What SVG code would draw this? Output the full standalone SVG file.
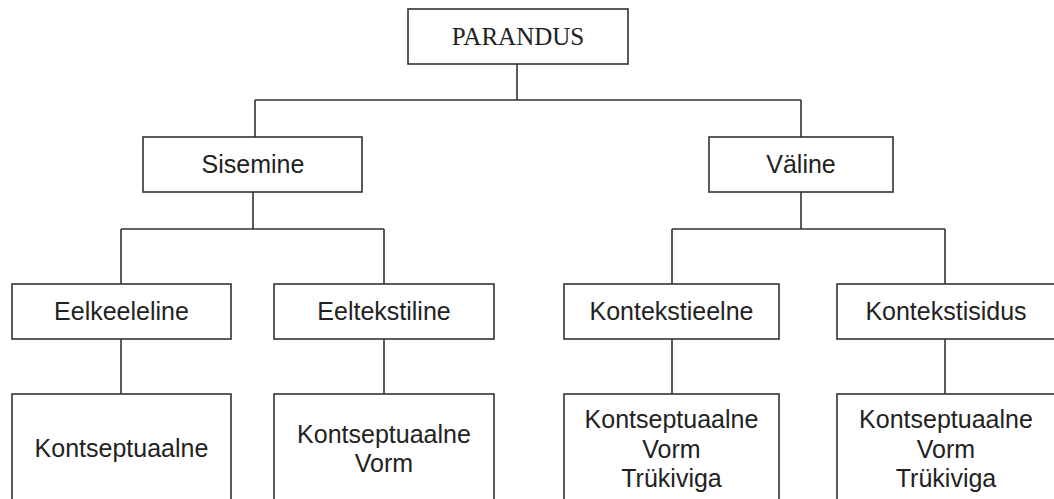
<svg xmlns="http://www.w3.org/2000/svg" width="1054" height="499" viewBox="0 0 1054 499">
<style>
.box{fill:#fff;stroke:#333;stroke-width:1.6}
.con{fill:none;stroke:#333;stroke-width:1.6}
.t{font-family:"Liberation Sans",Arial,sans-serif;font-size:25px;fill:#222;text-anchor:middle}
.tr{font-family:"Liberation Serif","Times New Roman",serif;font-size:25px;fill:#222;text-anchor:middle}
</style>
<rect width="1054" height="499" fill="#fff"/>
<g id="connectors">
<path class="con" d="M517,64 V100 M255,100 H801 M255,100 V137 M801,100 V137"/>
<path class="con" d="M253,192 V229 M121,229 H384 M121,229 V284 M384,229 V284"/>
<path class="con" d="M801,192 V229 M672,229 H945 M672,229 V284 M945,229 V284"/>
<path class="con" d="M121,339 V394 M384,339 V394 M672,339 V394 M945,339 V394"/>
</g>
<g id="parandus"><rect class="box" x="408" y="9" width="220" height="55"/><text class="tr" x="518" y="45">PARANDUS</text></g>
<g id="sisemine"><rect class="box" x="143" y="137" width="219" height="55"/><text class="t" x="253" y="173">Sisemine</text></g>
<g id="valine"><rect class="box" x="709" y="137" width="184" height="55"/><text class="t" x="801" y="173">Väline</text></g>
<g id="eelkeeleline"><rect class="box" x="12" y="284" width="219" height="55"/><text class="t" x="121.5" y="320">Eelkeeleline</text></g>
<g id="eeltekstiline"><rect class="box" x="274" y="284" width="220" height="55"/><text class="t" x="384" y="320">Eeltekstiline</text></g>
<g id="kontekstieelne"><rect class="box" x="564" y="284" width="215" height="55"/><text class="t" x="671.5" y="320">Kontekstieelne</text></g>
<g id="kontekstisidus"><rect class="box" x="837" y="284" width="220" height="55"/><text class="t" x="946" y="320">Kontekstisidus</text></g>
<g id="leaf1"><rect class="box" x="12" y="394" width="219" height="120"/><text class="t" x="121.5" y="457">Kontseptuaalne</text></g>
<g id="leaf2"><rect class="box" x="274" y="394" width="220" height="120"/><text class="t" x="384" y="443">Kontseptuaalne</text><text class="t" x="384" y="472">Vorm</text></g>
<g id="leaf3"><rect class="box" x="564" y="394" width="215" height="120"/><text class="t" x="671.5" y="428">Kontseptuaalne</text><text class="t" x="671.5" y="458">Vorm</text><text class="t" x="671.5" y="487">Trükiviga</text></g>
<g id="leaf4"><rect class="box" x="837" y="394" width="220" height="120"/><text class="t" x="946" y="428">Kontseptuaalne</text><text class="t" x="946" y="458">Vorm</text><text class="t" x="946" y="487">Trükiviga</text></g>
</svg>
